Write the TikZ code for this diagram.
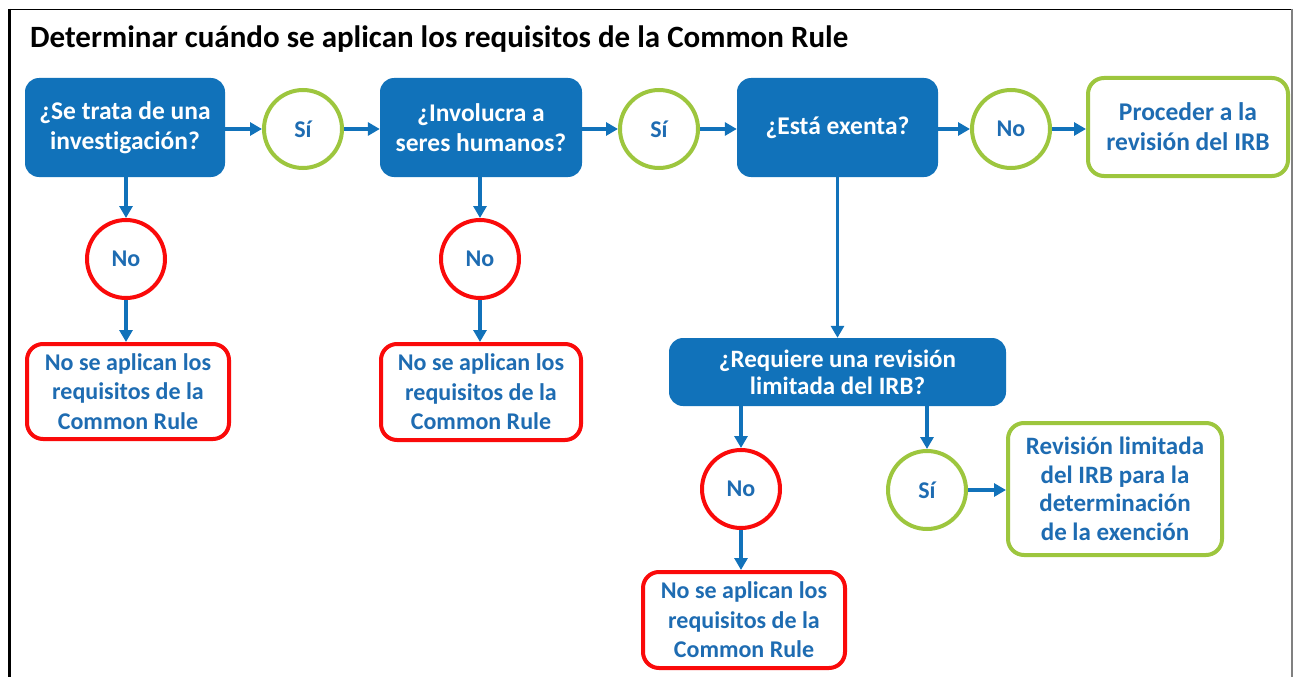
\documentclass[tikz,border=0pt]{standalone}
\usepackage{fontspec}
\setmainfont[Ligatures=NoCommon]{Carlito}
\usetikzlibrary{arrows.meta}
\definecolor{bluebox}{RGB}{17,114,186}
\definecolor{txtblue}{RGB}{30,108,178}
\definecolor{greenc}{RGB}{157,198,62}
\definecolor{redc}{RGB}{250,10,10}
\definecolor{frameg}{RGB}{128,128,128}
\tikzset{
  qbox/.style={fill=bluebox, rounded corners=14pt, text=white, align=center, inner sep=0pt,
    font=\bfseries\fontsize{25.5}{30}\selectfont},
  okbox/.style={draw=greenc, line width=4pt, fill=white, rounded corners=16pt, text=txtblue,
    align=center, inner sep=0pt, font=\bfseries\fontsize{25.5}{30}\selectfont},
  nobox/.style={okbox, draw=redc, font=\bfseries\fontsize{24}{29.5}\selectfont},
  yescirc/.style={circle, draw=greenc, line width=4pt, fill=white, minimum size=78pt, inner sep=0pt,
    text=txtblue, font=\bfseries\fontsize{24}{29.5}\selectfont},
  nocirc/.style={yescirc, draw=redc},
  arr/.style={draw=bluebox, line width=3.5pt, -{Triangle[length=12pt,width=13pt]}},
}
\begin{document}
\begin{tikzpicture}[x=1pt,y=-1pt]
\useasboundingbox (0,0) rectangle (1293,677);
% frame
\draw[line width=1.5pt, black] (9,9.5) -- (1292,9.5);
\draw[line width=3pt, black] (9.5,9) -- (9.5,677);
\draw[line width=2pt, frameg] (1292,9) -- (1292,677);
% title
\node[anchor=base west, inner sep=0pt, font=\bfseries\fontsize{31}{36}\selectfont] (title) at (30,48)
  {Determinar cuándo se aplican los requisitos de la Common Rule};
% row 1
\node[qbox, minimum width=200pt, minimum height=99pt] (b1) at (125,127.5) {¿Se trata de una\\investigación?};
\node[yescirc] (s1) at (303,129) {Sí};
\node[qbox, minimum width=202pt, minimum height=99pt] (b2) at (481,127.5) {¿Involucra a\\seres humanos?};
\node[yescirc] (s2) at (659,129) {Sí};
\node[qbox, minimum width=201pt, minimum height=99pt] (b3) at (837.5,127.5) {¿Está exenta?};
\node[yescirc] (n3) at (1011,129) {No};
\node[okbox, minimum width=200pt, minimum height=98pt] (pr) at (1188,127) {Proceder a la\\revisión del IRB};
% column 1
\node[nocirc] (n1) at (126,259) {No};
\node[nobox, minimum width=202pt, minimum height=95pt] (r1) at (128,391.5) {No se aplican los\\requisitos de la\\Common Rule};
% column 2
\node[nocirc] (n2) at (480,259) {No};
\node[nobox, minimum width=200pt, minimum height=96pt] (r2) at (481,392) {No se aplican los\\requisitos de la\\Common Rule};
% column 3
\node[qbox, minimum width=337pt, minimum height=68pt, font=\bfseries\fontsize{25}{27}\selectfont] (rq) at (837.5,372) {¿Requiere una revisión\\limitada del IRB?};
\node[nocirc] (n4) at (741,489) {No};
\node[yescirc] (s4) at (927,490) {Sí};
\node[okbox, minimum width=214pt, minimum height=132pt, font=\bfseries\fontsize{25}{28.5}\selectfont] (g2) at (1115,489) {Revisión limitada\\del IRB para la\\determinación\\de la exención};
\node[nobox, minimum width=202pt, minimum height=96pt] (r3) at (744,620) {No se aplican los\\requisitos de la\\Common Rule};
% connectors
\draw[arr] (b1.east |- s1.west) -- (s1.west);
\draw[arr] (s1.east) -- (s1.east -| b2.west);
\draw[arr] (b2.east |- s2.west) -- (s2.west);
\draw[arr] (s2.east) -- (s2.east -| b3.west);
\draw[arr] (b3.east |- n3.west) -- (n3.west);
\draw[arr] (n3.east) -- (n3.east -| pr.west);
\draw[arr] (b1.south -| n1.north) -- (n1.north);
\draw[arr] (n1.south) -- (n1.south |- r1.north);
\draw[arr] (b2.south -| n2.north) -- (n2.north);
\draw[arr] (n2.south) -- (n2.south |- r2.north);
\draw[arr] (b3.south) -- (rq.north);
\draw[arr] (rq.south -| n4.north) -- (n4.north);
\draw[arr] (rq.south -| s4.north) -- (s4.north);
\draw[arr] (s4.east) -- (s4.east -| g2.west);
\draw[arr] (n4.south) -- (n4.south |- r3.north);
\end{tikzpicture}
\end{document}
